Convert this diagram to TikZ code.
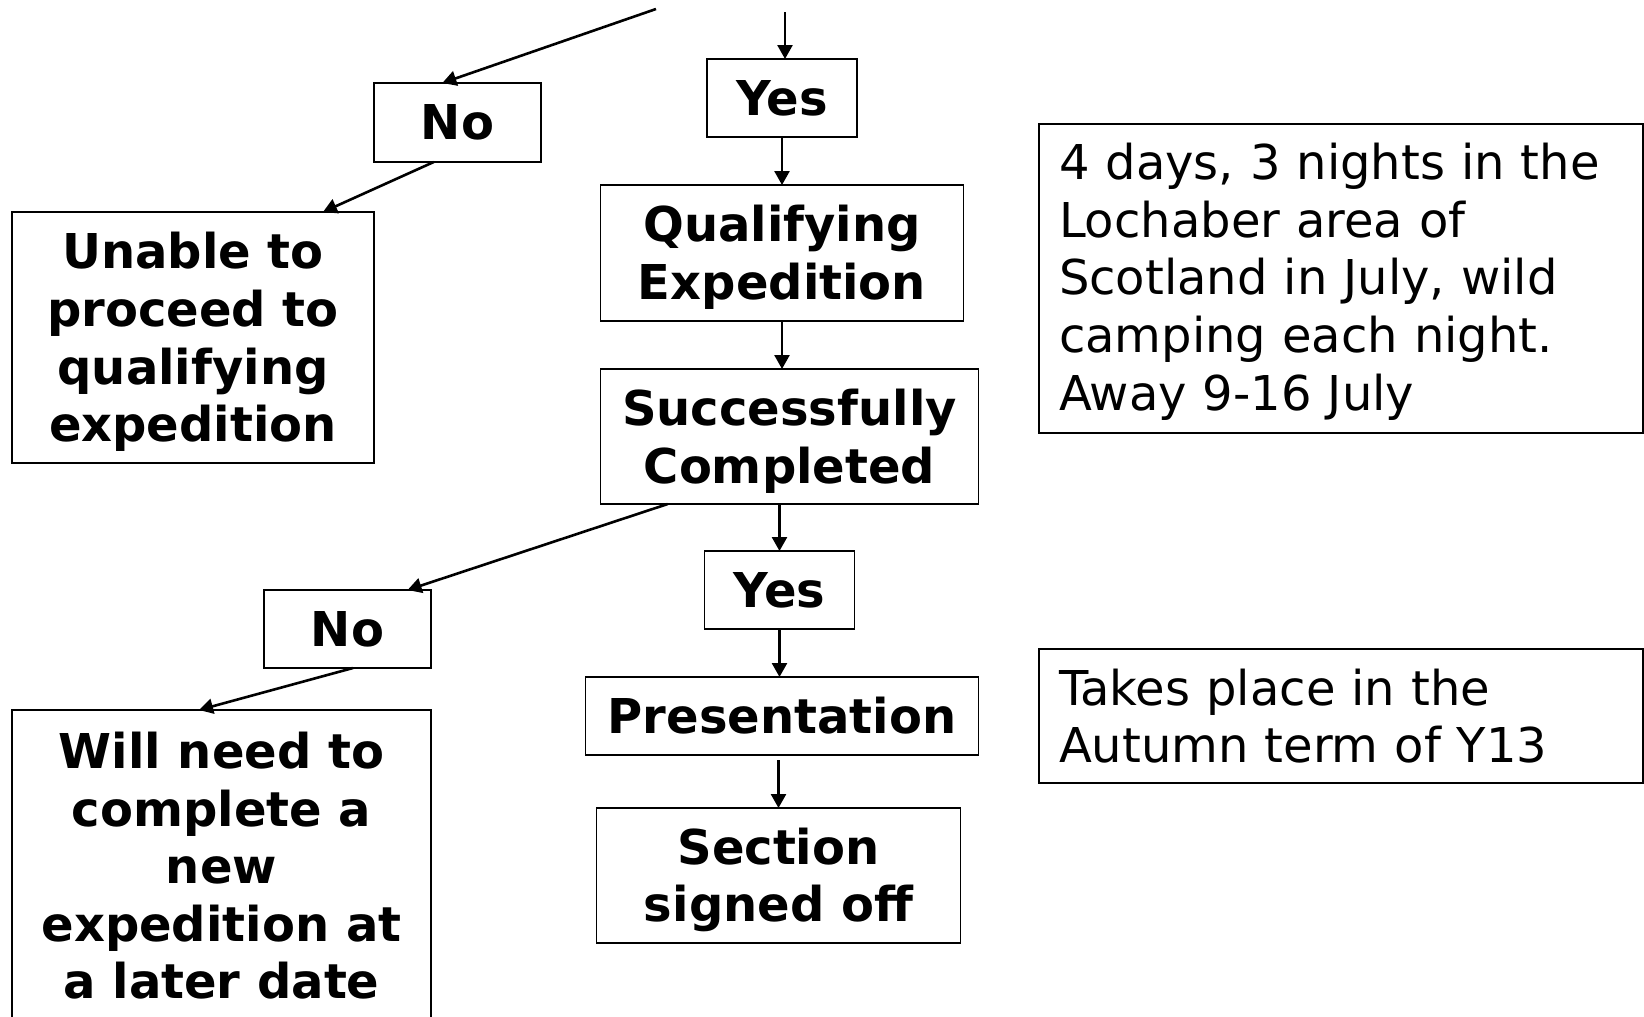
\documentclass[tikz,border=0pt]{standalone}
\usepackage{fontspec}
\setmainfont{DejaVu Sans}
\usetikzlibrary{arrows.meta,positioning}
\newcommand\topstrut{\rule{0pt}{22.75pt}}
\newcommand\notestrut{\rule{0pt}{21.4pt}}
\newcommand\botstrut{\rule[-4.5pt]{0pt}{4.5pt}}

\begin{document}
\begin{tikzpicture}[
    x=0.5pt, y=-0.5pt,
    node distance=24pt,
    box/.style={draw=black,line width=0.75pt,rectangle,inner sep=0pt,outer sep=0pt,align=center,
        font=\fontsize{24}{28.8}\selectfont\bfseries},
    note/.style={draw=black,line width=0.75pt,rectangle,anchor=north west,inner xsep=10pt,
        inner ysep=0pt,outer sep=0pt,text width=282pt,align=left,font=\fontsize{24}{28.85}\selectfont},
    arr/.style={-{Triangle[length=7pt,width=7.5pt]},line width=1.3pt}
]
\useasboundingbox (0,0) rectangle (1644,1017);
\clip (0,0) rectangle (1644,1017);
\fill[white] (0,0) rectangle (1644,1017);

% free ends at the top
\coordinate (in1) at (785,12);
\coordinate (in2) at (656,9);

% main column
\node[box,minimum width=75pt,minimum height=39pt] (yes1) at (782,98) {Yes};
\node[box,minimum width=181.5pt,minimum height=68pt,below=of yes1] (qual) {\topstrut Qualifying\\Expedition};
\node[box,minimum width=189pt,minimum height=67.5pt,below=of qual,xshift=3.75pt] (succ) {\topstrut Successfully\\Completed};
\node[box,minimum width=75pt,minimum height=39pt,below=23.5pt of succ,xshift=-5pt] (yes2) {Yes};
\node[box,minimum width=196.5pt,minimum height=39pt,below=of yes2,xshift=1.25pt] (pres) {Presentation};
\node[box,minimum width=182pt,minimum height=67.5pt,below=26.5pt of pres,xshift=-1.75pt] (sign) {\topstrut Section\\signed off};

% left branches
\node[box,minimum width=83.5pt,minimum height=39.5pt] (no1) at (457.5,122.5) {No};
\node[box,minimum width=181pt,minimum height=125.5pt] (unable) at (193,337.5) {\topstrut Unable to\\proceed to\\qualifying\\expedition};
\node[box,minimum width=83.5pt,minimum height=39pt] (no2) at (347.5,629) {No};
\node[box,minimum width=209.5pt,minimum height=160pt] (later) at (221.5,870) {Will need to\\complete a\\new\\expedition at\\a later date\botstrut};

% notes
\node[note,minimum height=154.5pt] (info1) at (1039,124) {\notestrut 4 days, 3 nights in the\\Lochaber area of\\Scotland in July, wild\\camping each night.\\Away 9-16 July};
\node[note,minimum height=67pt] (info2) at (1039,649) {Takes place in the\\Autumn term of Y13};

% connectors
\draw[arr] (in1) -- (in1 |- yes1.north);
\draw[arr] (in2) -- (no1.111);
\draw[arr] (yes1.south) -- (yes1.south |- qual.north);
\draw[arr] (qual.south) -- (qual.south |- succ.north);
\draw[arr] (yes2.north |- succ.south) -- (yes2.north);
\draw[arr] (yes2.south) -- (yes2.south |- pres.north);
\draw[arr,shorten <=2.5pt] (sign.north |- pres.south) -- (sign.north);
\draw[arr] (no1.239) -- (unable.44.2);
\draw[arr] (succ.209.7) -- (no2.33.2);
\draw[arr] (no2.278) -- (later.98.7);
\end{tikzpicture}
\end{document}
